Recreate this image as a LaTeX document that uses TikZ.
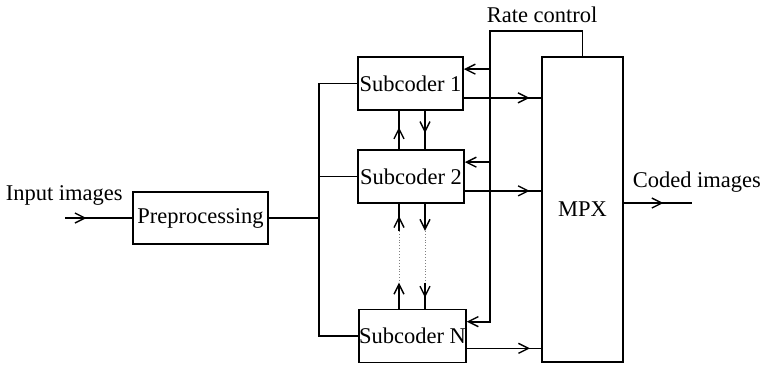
\documentclass[tikz,border=0pt]{standalone}
\usepackage{fontspec}
\setmainfont{Liberation Serif}
\usetikzlibrary{arrows.meta,decorations.markings,calc}
\begin{document}
\begin{tikzpicture}[x=1pt,y=-1pt,
  line width=1.7pt,
  every node/.style={font=\fontsize{22.5}{26}\selectfont},
  blk/.style={draw,rectangle,inner sep=0pt,line width=1.7pt},
  tip/.style={-{Straight Barb[length=10pt,width=10pt,line width=1.4pt]}},
  midtip/.style={postaction={decorate},decoration={markings,mark=at position #1 with {\arrow{Straight Barb[length=10pt,width=10pt,line width=1.4pt]}}}},
  dotline/.style={dotted,line width=0.9pt,gray}]
\useasboundingbox (0,0) rectangle (760,365);
% blocks
\node[blk,minimum width=135pt,minimum height=52pt] (pre) at (200.5,218) {\raisebox{-2pt}{Preprocessing}};
\node[blk,minimum width=105pt,minimum height=53pt] (s1) at (410.5,83.5) {\raisebox{-2pt}{Subcoder 1}};
\node[blk,minimum width=106pt,minimum height=53pt] (s2) at (411,176.5) {\raisebox{-2pt}{Subcoder 2}};
\node[blk,minimum width=105pt,minimum height=53pt] (sN) at (412.5,336) {\raisebox{-2pt}{Subcoder N}};
\node[blk,minimum width=81pt,minimum height=305pt] (mpx) at (582.5,209.5) {MPX};
% labels
\node[anchor=base west,inner sep=0pt] (lin) at (5,200) {Input images};
\node[anchor=base west,inner sep=0pt] (lout) at (632,187) {Coded images};
\node[anchor=base west,inner sep=0pt] (lrc) at (486,22) {Rate control};
% helper coordinates
\coordinate (inS) at (65,218);
\coordinate (outE) at (692,203);
\coordinate (busx) at (319,0);
\coordinate (rcx) at (490,31);
\coordinate (ul) at (399,0);
\coordinate (dr) at (425,0);
\coordinate (r1) at ($(s1.north east)+(0,13)$);
\coordinate (r2) at ($(s2.north east)+(0,13)$);
\coordinate (rN) at ($(sN.north east)+(0,13)$);
\coordinate (o1) at ($(s1.south east)+(0,-13)$);
\coordinate (o2) at ($(s2.south east)+(0,-13)$);
\coordinate (oN) at ($(sN.south east)+(0,-15)$);
\coordinate (ma) at ($(s2.south)+(0,27)$);
\coordinate (mb) at ($(sN.north)+(0,-26)$);
% input side
\draw[midtip=0.32] (inS) -- (pre.west);
\draw (pre.east) -- (pre.east -| busx);
\draw (s1.west) -| (busx |- sN.west) -- (sN.west);
\draw (s2.west) -- (s2.west -| busx);
% rate control loop
\draw[tip] (mpx.north) |- (rcx) |- (rN);
\draw[tip] (r1 -| rcx) -- (r1);
\draw[tip] (r2 -| rcx) -- (r2);
% outputs to MPX
\draw[midtip=0.85] (o1) -- (o1 -| mpx.west);
\draw[midtip=0.85] (o2) -- (o2 -| mpx.west);
\draw[midtip=0.85] (oN) -- (oN -| mpx.west);
\draw[midtip=0.58] (mpx.east |- outE) -- (outE);
% between subcoder 1 and 2
\draw[midtip=0.57] (s2.north -| ul) -- (s1.south -| ul);
\draw[midtip=0.58] (s1.south -| dr) -- (s2.north -| dr);
% between subcoder 2 and N
\draw[midtip=0.55] (ma -| ul) -- (s2.south -| ul);
\draw[dotline] (ma -| ul) -- (mb -| ul);
\draw[tip] (sN.north -| ul) -- (mb -| ul);
\draw[tip] (s2.south -| dr) -- (ma -| dr);
\draw[dotline] (ma -| dr) -- (mb -| dr);
\draw[midtip=0.58] (mb -| dr) -- (sN.north -| dr);
\end{tikzpicture}
\end{document}
